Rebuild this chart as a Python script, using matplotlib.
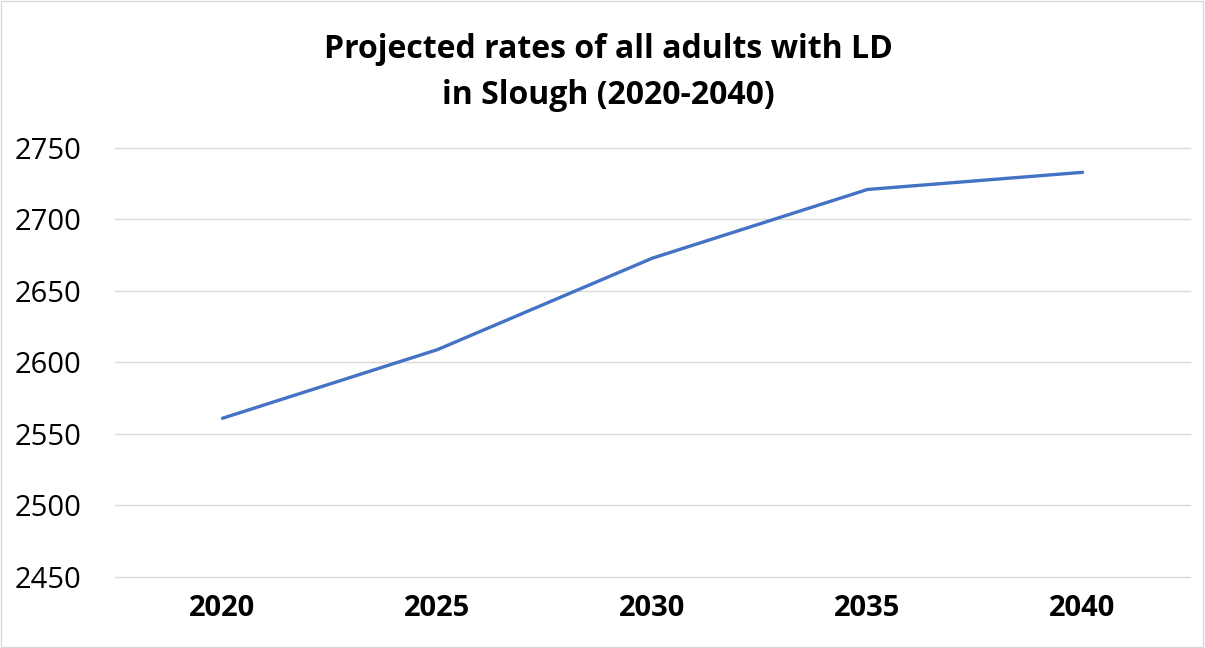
import matplotlib
matplotlib.use('Agg')
import matplotlib.pyplot as plt

years = ['2020', '2025', '2030', '2035', '2040']
adults_ld = [2561, 2609, 2673, 2721, 2733]
y_ticks = [2450, 2500, 2550, 2600, 2650, 2700, 2750]

plt.rcParams['font.family'] = ['Open Sans', 'DejaVu Sans']

fig = plt.figure(figsize=(12.05, 6.48), dpi=100)
ax = fig.add_axes([0.0954, 0.1096, 0.8922, 0.662])

x = list(range(len(years)))
ax.plot(x, adults_ld, color='#4472C4', linewidth=2.4, solid_capstyle='round')

ax.set_xlim(-0.5, len(years) - 0.5)
ax.set_ylim(y_ticks[0], y_ticks[-1])
ax.set_yticks(y_ticks)
ax.set_xticks(x)
ax.set_xticklabels(years, fontsize=21, fontweight='bold')
ax.tick_params(axis='y', labelsize=21, length=0, pad=24)
ax.tick_params(axis='x', length=0, pad=12)
ax.grid(axis='y', color='#D9D9D9', linewidth=1)
for gl in ax.get_ygridlines():
    gl.set_clip_on(False)
ax.set_axisbelow(True)
for s in ax.spines.values():
    s.set_visible(False)

fig.text(0.505, 0.888, 'Projected rates of all adults with LD\nin Slough (2020-2040)',
         ha='center', va='center', fontsize=23, fontweight='bold', linespacing=1.5)

fig.patches.append(plt.Rectangle((0.001, 0.001), 0.997, 0.997, transform=fig.transFigure,
                                 fill=False, edgecolor='#D9D9D9', linewidth=1))

fig.savefig('out.png', dpi=100)
